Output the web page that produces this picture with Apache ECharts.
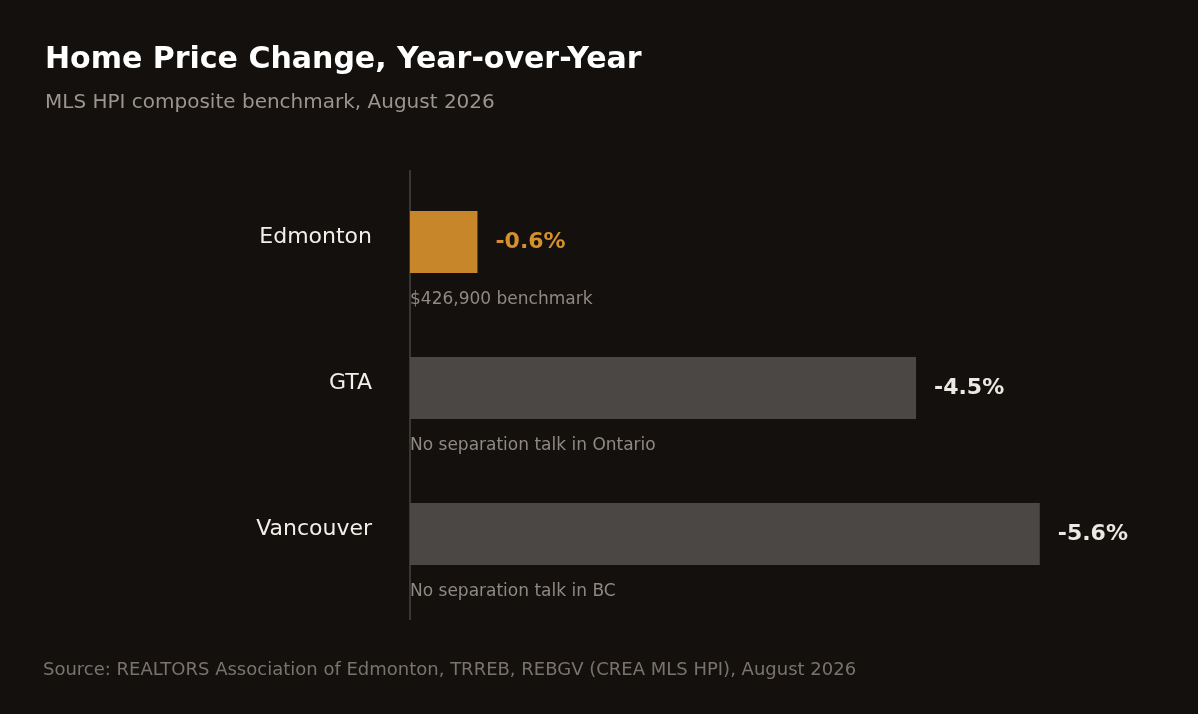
<!DOCTYPE html>
<html><head><meta charset="utf-8">
<script src="https://cdn.jsdelivr.net/npm/echarts@6/dist/echarts.min.js"></script>
<style>html,body{margin:0;background:#13100e}#c{width:1198px;height:714px}</style>
</head><body><div id="c"></div>
<script>
var cities = ['Edmonton', 'GTA', 'Vancouver'];
var changes = [-0.6, -4.5, -5.6];
var notes = ['$426,900 benchmark', 'No separation talk in Ontario', 'No separation talk in BC'];
var barColors = ['#c8862b', '#4b4744', '#4b4744'];
var labelColors = ['#d48f2e', '#ece8e3', '#ece8e3'];

var font = '"DejaVu Sans", Verdana, sans-serif';
var chart = echarts.init(document.getElementById('c'));
chart.setOption({
  backgroundColor: '#13100e',
  animation: false,
  title: {
    text: 'Home Price Change, Year-over-Year',
    subtext: 'MLS HPI composite benchmark, August 2026',
    left: 40, top: 40, itemGap: 18,
    textStyle: {color: '#ffffff', fontSize: 30, fontWeight: 'bold', fontFamily: font},
    subtextStyle: {color: '#9b958f', fontSize: 20, fontFamily: font}
  },
  grid: {left: 410, right: 57, top: 169, height: 438},
  xAxis: {type: 'value', min: 0, max: 6.5, show: false},
  yAxis: {
    type: 'category', inverse: true, data: cities,
    axisLine: {show: false}, axisTick: {show: false},
    axisLabel: {color: '#f2efeb', fontSize: 22, fontFamily: font, margin: 38,
      verticalAlign: 'bottom', lineHeight: 22, padding: [0, 0, -6, 0]}
  },
  series: [{
    type: 'bar', barWidth: 62,
    data: changes.map(function (v, i) {
      return {value: Math.abs(v), itemStyle: {color: barColors[i]},
        label: {color: labelColors[i]}};
    }),
    label: {show: true, position: 'right', distance: 18, fontSize: 22, fontWeight: 'bold',
      fontFamily: font,
      formatter: function (p) { return changes[p.dataIndex].toFixed(1) + '%'; }}
  }],
  graphic: [
    {type: 'line', shape: {x1: 410, y1: 170, x2: 410, y2: 620},
      style: {stroke: '#3a3633', lineWidth: 2}},
    {type: 'text', left: 43, top: 661,
      style: {text: 'Source: REALTORS Association of Edmonton, TRREB, REBGV (CREA MLS HPI), August 2026',
        fill: '#79736d', fontSize: 18, fontFamily: font}}
  ]
});
var extra = chart.getOption().graphic[0].elements.slice();
notes.forEach(function (n, i) {
  var pt = chart.convertToPixel({gridIndex: 0}, [0, i]);
  extra.push({type: 'text', x: 410, y: pt[1] + 49,
    style: {text: n, fill: '#8f8984', fontSize: 17, fontFamily: font}});
});
chart.setOption({graphic: extra}, {replaceMerge: ['graphic']});
</script></body></html>
